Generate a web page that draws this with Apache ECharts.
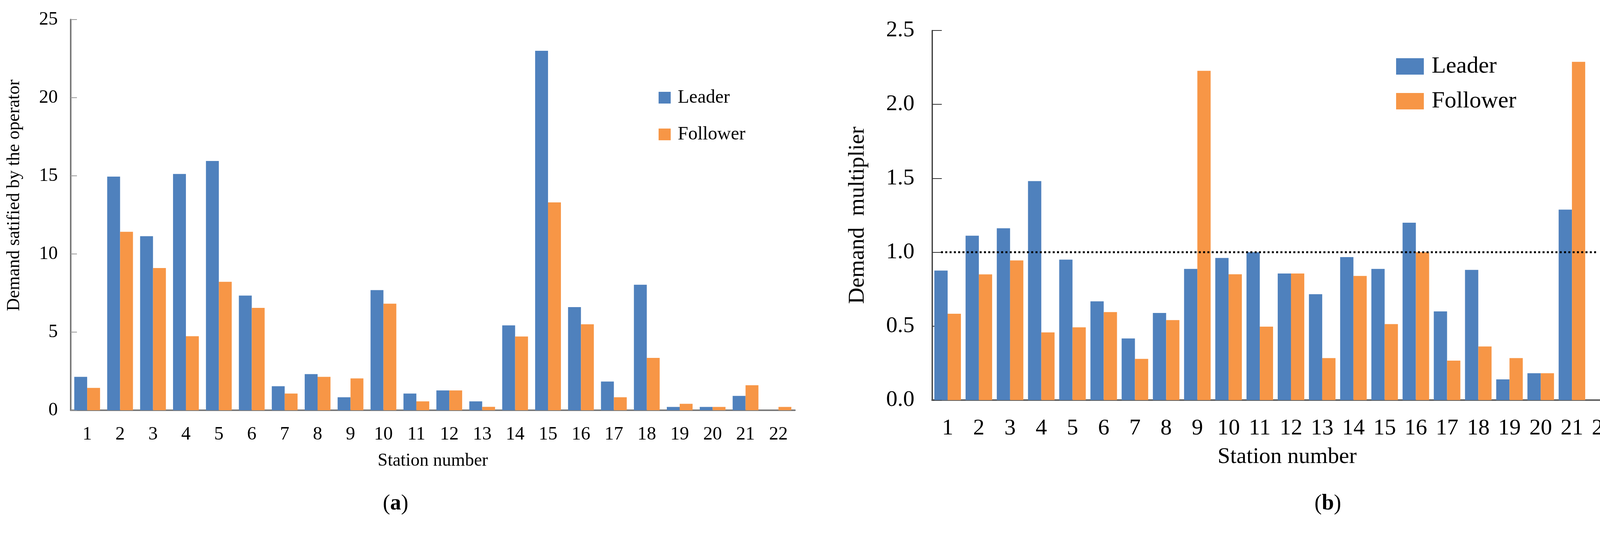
<!DOCTYPE html>
<html>
<head>
<meta charset="utf-8">
<script src="https://cdn.jsdelivr.net/npm/echarts@6/dist/echarts.min.js"></script>
<style>html,body{margin:0;padding:0;background:#fff;}#c{width:4157px;height:1400px;}</style>
</head>
<body>
<div id="c"></div>
<script>
// ---- data ----
var stations = ['1','2','3','4','5','6','7','8','9','10','11','12','13','14','15','16','17','18','19','20','21','22'];
var demandLeader   = [2.14, 14.95, 11.14, 15.12, 15.95, 7.34, 1.54, 2.31, 0.83, 7.69, 1.07, 1.27, 0.57, 5.43, 23.0, 6.6, 1.84, 8.03, 0.21, 0.21, 0.92, 0];
var demandFollower = [1.43, 11.42, 9.1, 4.74, 8.22, 6.55, 1.07, 2.14, 2.04, 6.82, 0.57, 1.27, 0.22, 4.72, 13.3, 5.5, 0.83, 3.35, 0.41, 0.21, 1.6, 0.21];
var multLeader     = [0.876, 1.112, 1.162, 1.481, 0.95, 0.668, 0.417, 0.589, 0.887, 0.961, 1.0, 0.856, 0.716, 0.967, 0.887, 1.2, 0.6, 0.881, 0.14, 0.182, 1.288, 0];
var multFollower   = [0.584, 0.85, 0.945, 0.458, 0.492, 0.595, 0.279, 0.541, 2.227, 0.851, 0.497, 0.856, 0.284, 0.84, 0.514, 1.0, 0.267, 0.363, 0.284, 0.182, 2.288, 0.247];
var leftYTicks = {min: 0, max: 25, interval: 5};
var rightYTicks = {min: 0, max: 2.5, interval: 0.5};
var referenceLevel = 1.0;

var BLUE = '#4F81BD', ORANGE = '#F79646';
var FONT = '"Liberation Serif", "Times New Roman", serif';

var chart = echarts.init(document.getElementById('c'));
chart.setOption({
  backgroundColor: '#fff',
  animation: false,
  textStyle: {fontFamily: FONT, color: '#000'},
  legend: [
    {data: ['Leader', 'Follower'], orient: 'vertical', left: 1681, top: 221, icon: 'rect',
     itemWidth: 31, itemHeight: 30, itemGap: 46,
     textStyle: {fontFamily: FONT, fontSize: 48, color: '#000', padding: [0, 0, 0, 13]}},
    {data: ['Leader', 'Follower'], orient: 'vertical', left: 3569, top: 135, icon: 'rect',
     itemWidth: 71, itemHeight: 42, itemGap: 29,
     textStyle: {fontFamily: FONT, fontSize: 60, color: '#000', padding: [0, 0, 0, 15]}}
  ],
  grid: [
    {left: 181, top: 50, width: 1854, height: 1000, containLabel: false},
    {left: 2386, top: 78, width: 1758, height: 946, containLabel: false}
  ],
  xAxis: [
    {type: 'category', gridIndex: 0, data: stations,
     name: 'Station number', nameLocation: 'middle', nameGap: 107,
     nameTextStyle: {fontFamily: FONT, fontSize: 46, color: '#000'},
     axisLine: {lineStyle: {color: '#7a7a7a', width: 4}},
     axisTick: {inside: true, length: 17, lineStyle: {color: '#444', width: 2}},
     axisLabel: {fontFamily: FONT, fontSize: 48, color: '#000', margin: 38}},
    {type: 'category', gridIndex: 1, data: stations,
     name: 'Station number', nameLocation: 'middle', nameGap: 117,
     nameTextStyle: {fontFamily: FONT, fontSize: 58, color: '#000', padding: [0, 0, 0, 60]},
     axisLine: {lineStyle: {color: '#5f5f5f', width: 4}},
     axisTick: {inside: true, length: 21, lineStyle: {color: '#333', width: 2}},
     axisLabel: {fontFamily: FONT, fontSize: 58, color: '#000', margin: 44}}
  ],
  yAxis: [
    {type: 'value', gridIndex: 0, min: leftYTicks.min, max: leftYTicks.max, interval: leftYTicks.interval,
     name: 'Demand satified by the operator', nameLocation: 'middle', nameGap: 121, nameRotate: 90,
     nameTextStyle: {fontFamily: FONT, fontSize: 46, color: '#000', padding: [0, 0, 0, 100]},
     axisLine: {show: true, lineStyle: {color: '#7a7a7a', width: 4}},
     axisTick: {show: true, inside: true, length: 16, lineStyle: {color: '#999', width: 2}},
     splitLine: {show: false},
     axisLabel: {fontFamily: FONT, fontSize: 48, color: '#000', margin: 33}},
    {type: 'value', gridIndex: 1, min: rightYTicks.min, max: rightYTicks.max, interval: rightYTicks.interval,
     name: 'Demand  multiplier', nameLocation: 'middle', nameGap: 161, nameRotate: 90,
     nameTextStyle: {fontFamily: FONT, fontSize: 58, color: '#000'},
     axisLine: {show: true, lineStyle: {color: '#333', width: 3}},
     axisTick: {show: true, inside: true, length: 25, lineStyle: {color: '#333', width: 2}},
     splitLine: {show: false},
     axisLabel: {fontFamily: FONT, fontSize: 58, color: '#000', margin: 45,
                 formatter: function (v) { return v.toFixed(1); }}}
  ],
  series: [
    {name: 'Leader', type: 'bar', xAxisIndex: 0, yAxisIndex: 0, data: demandLeader,
     itemStyle: {color: BLUE}, barWidth: 33, barGap: '0%'},
    {name: 'Follower', type: 'bar', xAxisIndex: 0, yAxisIndex: 0, data: demandFollower,
     itemStyle: {color: ORANGE}, barWidth: 33, barGap: '0%'},
    {name: 'Leader', type: 'bar', xAxisIndex: 1, yAxisIndex: 1, data: multLeader,
     itemStyle: {color: BLUE}, barWidth: 34, barGap: '0%', z: 2,
     markLine: {silent: true, symbol: ['none', 'none'], label: {show: false}, z: 10,
       lineStyle: {color: '#000', width: 5, type: [5, 6], cap: 'butt'},
       data: [[{xAxis: stations[0], yAxis: referenceLevel}, {xAxis: stations[stations.length - 1], yAxis: referenceLevel}]]}},
    {name: 'Follower', type: 'bar', xAxisIndex: 1, yAxisIndex: 1, data: multFollower,
     itemStyle: {color: ORANGE}, barWidth: 34, barGap: '0%'}
  ],
  graphic: [
    {type: 'text', left: 980, top: 1262, style: {text: '({b|a})', fontFamily: FONT, fontSize: 56, fill: '#000',
      rich: {b: {fontFamily: FONT, fontSize: 56, fontWeight: 'bold', fill: '#000'}}}},
    {type: 'text', left: 3365, top: 1262, style: {text: '({b|b})', fontFamily: FONT, fontSize: 56, fill: '#000',
      rich: {b: {fontFamily: FONT, fontSize: 56, fontWeight: 'bold', fill: '#000'}}}}
  ]
});
</script>
</body>
</html>
